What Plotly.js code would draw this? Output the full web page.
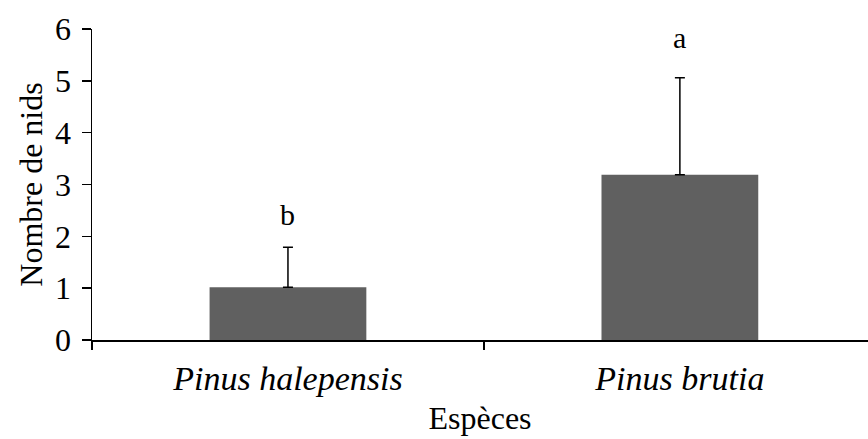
<!DOCTYPE html>
<html>
<head>
<meta charset="utf-8">
<script src="https://cdn.plot.ly/plotly-3.0.1.min.js"></script>
<style>html,body{margin:0;padding:0;background:#fff;}#chart{width:868px;height:439px;}</style>
</head>
<body>
<div id="chart"></div>
<script>
const categories = ["Pinus halepensis", "Pinus brutia"];
const means = [1.02, 3.19];
const errorsUp = [0.77, 1.87];
const letters = ["b", "a"];
const letterY = [2.42, 5.83];

const FONT = "Liberation Serif, Times New Roman, serif";

const trace = {
  type: "bar",
  x: categories,
  y: means,
  width: 0.4,
  marker: {color: "#606060"},
  error_y: {
    type: "data",
    symmetric: false,
    array: errorsUp,
    arrayminus: [0, 0],
    color: "#000",
    thickness: 1.5,
    width: 5
  },
  hoverinfo: "none"
};

const annotations = categories.map((c, i) => ({
  x: c, y: letterY[i], xref: "x", yref: "y",
  text: letters[i], showarrow: false,
  font: {family: FONT, size: 30, color: "#000"}
}));

const layout = {
  width: 868, height: 439,
  margin: {l: 92, r: 0, t: 29, b: 99, pad: 0},
  paper_bgcolor: "#fff", plot_bgcolor: "#fff",
  showlegend: false,
  font: {family: FONT, color: "#000", size: 32},
  xaxis: {
    type: "category",
    range: [-0.5, 1.48],
    showline: true, linecolor: "#000", linewidth: 2,
    ticks: "outside", tickson: "boundaries", ticklen: 8, tickwidth: 1.5, tickcolor: "#000",
    showgrid: false, zeroline: false,
    tickfont: {family: FONT, size: 34, style: "italic"},
    ticklabelstandoff: 7,
    title: {text: "Espèces", font: {family: FONT, size: 32}, standoff: 11}
  },
  yaxis: {
    range: [0, 6],
    tickvals: [0, 1, 2, 3, 4, 5, 6],
    showline: true, linecolor: "#000", linewidth: 1.5,
    ticks: "outside", ticklen: 9, tickwidth: 1.5, tickcolor: "#000",
    showgrid: false, zeroline: false,
    tickfont: {family: FONT, size: 32},
    ticklabelstandoff: 4,
    title: {text: "Nombre de nids", font: {family: FONT, size: 32}, standoff: 3}
  },
  annotations: annotations
};

Plotly.newPlot("chart", [trace], layout, {displayModeBar: false, staticPlot: true});
</script>
</body>
</html>
